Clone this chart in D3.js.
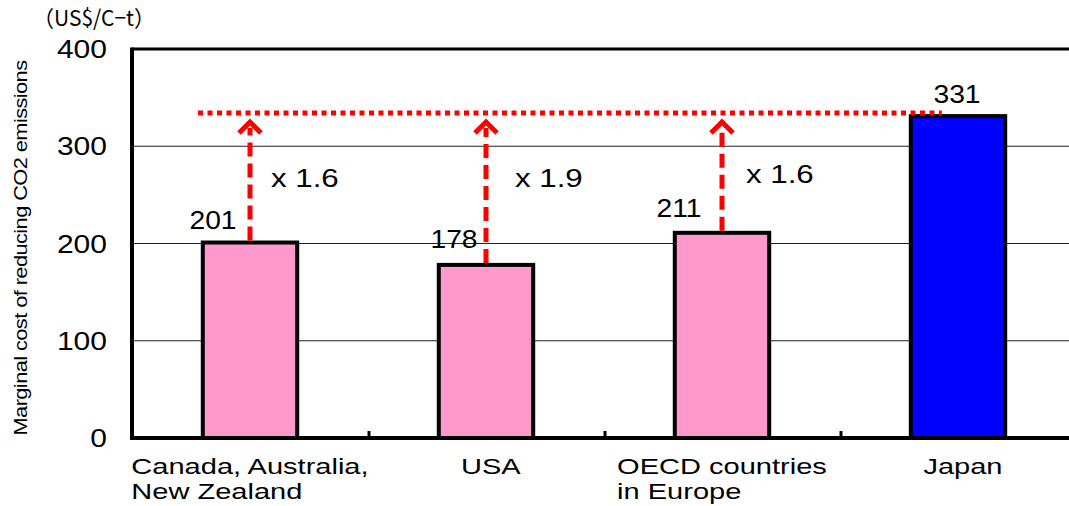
<!DOCTYPE html>
<html>
<head>
<meta charset="utf-8">
<script src="https://cdn.jsdelivr.net/npm/d3@7"></script>
<style>
  body { margin: 0; background: #fff; }
  text { font-family: "Liberation Sans", Arial, sans-serif; fill: #000; }
</style>
</head>
<body>
<svg id="chart" width="1069" height="506"></svg>
<script>
// data
var categories = [["Canada, Australia,", "New Zealand"], ["USA"], ["OECD countries", "in Europe"], ["Japan"]];
var values = [201, 178, 211, 331];
var barColors = ["#ff99cc", "#ff99cc", "#ff99cc", "#0000ff"];
var ratioLabels = ["x 1.6", "x 1.9", "x 1.6"];
var yTicks = [0, 100, 200, 300, 400];

// label nudges (layout only)
var valueDx = [-37, -32, -43, -1];
var valueDy = [14, 17, 16, 13];
var ratioDx = [21, 29, 24];
var ratioY = [187, 187, 183];
var catDx = [0, 5, 0, 5];

var svg = d3.select("#chart");
var margin = { top: 49, left: 132, bottom: 68 };
var height = 506 - margin.top - margin.bottom;
var step = 236;

var x = d3.scaleBand()
  .domain(d3.range(categories.length))
  .range([0, step * categories.length])
  .paddingInner(0.6)
  .paddingOuter(0.3);
var y = d3.scaleLinear().domain([0, 400]).range([height, 0]);

var g = svg.append("g").attr("transform", "translate(" + margin.left + "," + margin.top + ")");

// the source text is drawn a bit wide, so stretch it horizontally
function wideText(parent, tx, ty, str, size, anchor, scale) {
  return parent.append("text")
    .attr("transform", "translate(" + tx + "," + ty + ") scale(" + scale + ",1)")
    .attr("text-anchor", anchor || "start")
    .style("font-size", size + "px")
    .text(str);
}

// gridlines
g.selectAll(".grid")
  .data(yTicks.filter(d => d > 0 && d < 400))
  .enter().append("line")
  .attr("x1", 0).attr("x2", 1069)
  .attr("y1", d => y(d)).attr("y2", d => y(d))
  .attr("stroke", "#222").attr("stroke-width", 1.2);

// y tick labels
yTicks.forEach(function (d) {
  wideText(g, -25, y(d) + 9, d, 25, "end", 1.2);
});

// bars
g.selectAll(".bar")
  .data(values)
  .enter().append("rect")
  .attr("x", (d, i) => x(i))
  .attr("y", d => y(d))
  .attr("width", x.bandwidth())
  .attr("height", d => height - y(d))
  .attr("fill", (d, i) => barColors[i])
  .attr("stroke", "#000")
  .attr("stroke-width", 4);

// frame: top border, left and bottom axis
g.append("line").attr("x1", 0).attr("x2", 1069).attr("y1", 0).attr("y2", 0)
  .attr("stroke", "#000").attr("stroke-width", 3);
g.append("line").attr("x1", 0).attr("x2", 0).attr("y1", -1.5).attr("y2", height + 2)
  .attr("stroke", "#000").attr("stroke-width", 4);
g.append("line").attr("x1", -2).attr("x2", 1069).attr("y1", height).attr("y2", height)
  .attr("stroke", "#000").attr("stroke-width", 4);

// small tick marks between categories
g.selectAll(".xtick")
  .data(d3.range(1, categories.length))
  .enter().append("line")
  .attr("x1", d => d * step + 1).attr("x2", d => d * step + 1)
  .attr("y1", height).attr("y2", height - 7)
  .attr("stroke", "#000").attr("stroke-width", 3);

// category labels (centred blocks, lines left-aligned)
categories.forEach(function (lines, i) {
  var t = g.append("text").style("font-size", "22px");
  lines.forEach(function (ln, j) {
    t.append("tspan").attr("x", 0).attr("y", j * 25).text(ln);
  });
  var w = t.node().getBBox().width * 1.32;
  t.attr("transform", "translate(" + (x(i) + x.bandwidth() / 2 - w / 2 + catDx[i]) + "," + (height + 36) + ") scale(1.32,1)");
});

// value labels
values.forEach(function (v, i) {
  wideText(g, x(i) + x.bandwidth() / 2 + valueDx[i], y(v) - valueDy[i], v, 25, "middle", 1.13);
});

// red dotted reference line at Japan's level
var jp = values[3];
g.append("line")
  .attr("x1", x(0) + x.bandwidth() / 2 - 52)
  .attr("x2", x(3) + 31)
  .attr("y1", y(jp) - 3).attr("y2", y(jp) - 3)
  .attr("stroke", "#ff0000").attr("stroke-width", 5)
  .attr("stroke-dasharray", "5,4.5");

// dashed arrows from each bar up to the reference line
values.slice(0, 3).forEach(function (v, i) {
  var cx = x(i) + x.bandwidth() / 2;
  var top = y(jp) + 6;
  g.append("line")
    .attr("x1", cx).attr("x2", cx)
    .attr("y1", y(v) - 2).attr("y2", top + 6)
    .attr("stroke", "#ff0000").attr("stroke-width", 5)
    .attr("stroke-dasharray", "14,7");
  g.append("path")
    .attr("d", "M" + (cx - 11) + "," + (top + 11) + "L" + cx + "," + top + "L" + (cx + 11) + "," + (top + 11))
    .attr("fill", "none").attr("stroke", "#ff0000").attr("stroke-width", 5);
  wideText(g, cx + ratioDx[i], ratioY[i] - margin.top, ratioLabels[i], 25, "start", 1.25);
});

// unit label, stretched to the width it has in the source
var unit = svg.append("text")
  .style("font-size", "22px")
  .style("font-family", "'Noto Sans CJK JP', sans-serif")
  .text("（US$/C−t）");
var ub = unit.node().getBBox();
unit.attr("transform", "translate(" + (33 - ub.x * 122 / ub.width) + ",26) scale(" + (122 / ub.width) + ",1)");

// y axis title
svg.append("text")
  .attr("transform", "translate(27,248) rotate(-90)")
  .attr("text-anchor", "middle")
  .attr("textLength", 375)
  .attr("lengthAdjust", "spacingAndGlyphs")
  .style("font-size", "19px")
  .style("letter-spacing", "-0.5px")
  .text("Marginal cost of reducing CO2 emissions");
</script>
</body>
</html>
